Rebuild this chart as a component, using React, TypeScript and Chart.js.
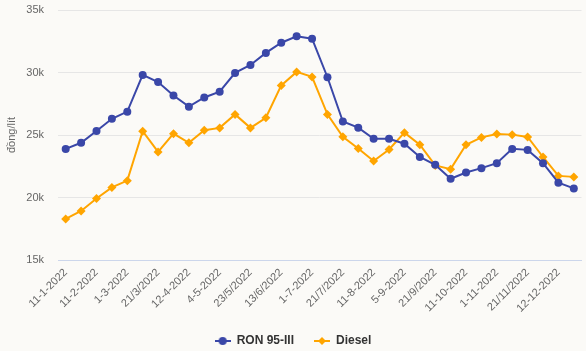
import React, { useEffect, useRef } from 'react';
import { Chart, registerables } from 'chart.js';
Chart.register(...registerables);

const categories = [
  '11-1-2022', '21-1-2022', '11-2-2022', '21-2-2022', '1-3-2022', '11-3-2022',
  '21/3/2022', '1/4/2022', '12-4-2022', '21-4-2022', '4-5-2022', '11-5-2022',
  '23/5/2022', '1/6/2022', '13/6/2022', '21/6/2022', '1-7-2022', '11-7-2022',
  '21/7/2022', '1-8-2022', '11-8-2022', '22-8-2022', '5-9-2022', '12-9-2022',
  '21/9/2022', '3-10-2022', '11-10-2022', '21-10-2022', '1-11-2022', '11-11-2022',
  '21/11/2022', '1-12-2022', '12-12-2022', '22-12-2022',
];

const ron95 = [
  23890, 24380, 25320, 26300, 26870, 29810, 29240, 28160, 27270, 28000, 28460, 29970,
  30600, 31570, 32380, 32900, 32700, 29620, 26080, 25590, 24700, 24700, 24300, 23240,
  22620, 21500, 22000, 22350, 22750, 23890, 23810, 22740, 21190, 20730,
];

const diesel = [
  18290, 18920, 19920, 20810, 21350, 25300, 23650, 25110, 24380, 25380, 25570, 26650,
  25570, 26380, 28970, 30050, 29650, 26650, 24860, 23920, 22920, 23840, 25190, 24220,
  22570, 22270, 24220, 24810, 25080, 25030, 24840, 23240, 21730, 21650,
];

const yTicks = [15000, 20000, 25000, 30000, 35000];

const BLUE = '#3a47a8';
const ORANGE = '#ffa500';
const FONT = '"Liberation Sans", Arial, sans-serif';

function makeIcon(color: string, kind: 'circle' | 'diamond') {
  const c = document.createElement('canvas');
  c.width = 16;
  c.height = 10;
  const g = c.getContext('2d')!;
  g.strokeStyle = color;
  g.lineWidth = 2;
  g.beginPath();
  g.moveTo(0, 5);
  g.lineTo(16, 5);
  g.stroke();
  g.fillStyle = color;
  g.beginPath();
  if (kind === 'circle') {
    g.arc(8, 5, 4, 0, Math.PI * 2);
  } else {
    g.moveTo(8, 1);
    g.lineTo(12, 5);
    g.lineTo(8, 9);
    g.lineTo(4, 5);
    g.closePath();
  }
  g.fill();
  return c;
}

export default function App() {
  const ref = useRef<HTMLCanvasElement | null>(null);

  useEffect(() => {
    if (!ref.current) return;
    const icons = [makeIcon(BLUE, 'circle'), makeIcon(ORANGE, 'diamond')];
    const chart = new Chart(ref.current, {
      type: 'line',
      data: {
        labels: categories,
        datasets: [
          {
            label: 'RON 95-III',
            data: ron95,
            borderColor: BLUE,
            backgroundColor: BLUE,
            borderWidth: 2,
            pointRadius: 4,
            pointStyle: 'circle',
            pointBorderWidth: 0,
            tension: 0,
          },
          {
            label: 'Diesel',
            data: diesel,
            borderColor: ORANGE,
            backgroundColor: ORANGE,
            borderWidth: 2,
            pointRadius: 4.5,
            pointStyle: 'rectRot',
            pointBorderWidth: 0,
            tension: 0,
          },
        ],
      },
      options: {
        animation: false,
        responsive: true,
        maintainAspectRatio: false,
        layout: { padding: { top: 10, left: 0, right: 0, bottom: -6 } },
        plugins: {
          tooltip: { enabled: false },
          legend: {
            position: 'bottom',
            labels: {
              usePointStyle: true,
              pointStyleWidth: 16,
              padding: 20,
              color: '#333333',
              font: { family: FONT, size: 12, weight: 'bold' },
              generateLabels: (ch: any) => {
                const items = Chart.defaults.plugins.legend.labels.generateLabels(ch);
                items.forEach((it: any, i: number) => {
                  it.pointStyle = icons[i];
                });
                return items;
              },
            },
          },
        },
        scales: {
          x: {
            offset: true,
            afterFit: (s: any) => {
              s.paddingLeft = 0;
              s.paddingRight = 0;
              s.height = 55;
            },
            grid: { display: false, drawTicks: false },
            border: { display: true, color: '#ccd6eb', width: 1 },
            ticks: {
              autoSkip: false,
              minRotation: 45,
              maxRotation: 45,
              padding: 6,
              color: '#666666',
              font: { family: FONT, size: 11 },
              callback: (_v: any, i: number) => (i % 2 === 0 ? categories[i] : ''),
            },
          },
          y: {
            min: 15000,
            max: 35000,
            afterBuildTicks: (s: any) => {
              s.ticks = yTicks.map((v) => ({ value: v }));
            },
            afterFit: (s: any) => {
              s.width = 58;
              s.paddingTop = 0;
              s.paddingBottom = 0;
            },
            grid: {
              drawTicks: false,
              color: (ctx: any) => (ctx.tick && ctx.tick.value === 15000 ? '#ccd6eb' : '#e6e6e6'),
            },
            border: { display: false },
            ticks: {
              padding: 14,
              color: '#666666',
              font: { family: FONT, size: 11 },
              callback: (v: any) => `${Number(v) / 1000}k`,
            },
            title: {
              display: true,
              text: 'đồng/lít',
              color: '#666666',
              font: { family: FONT, size: 11 },
              padding: { top: 5, bottom: 0 },
            },
          },
        },
      } as any,
    });
    return () => chart.destroy();
  }, []);

  return (
    <div
      style={{
        position: 'fixed',
        left: 0,
        top: 0,
        width: 586,
        height: 351,
        background: '#fbfaf7',
      }}
    >
      <canvas ref={ref} />
    </div>
  );
}
